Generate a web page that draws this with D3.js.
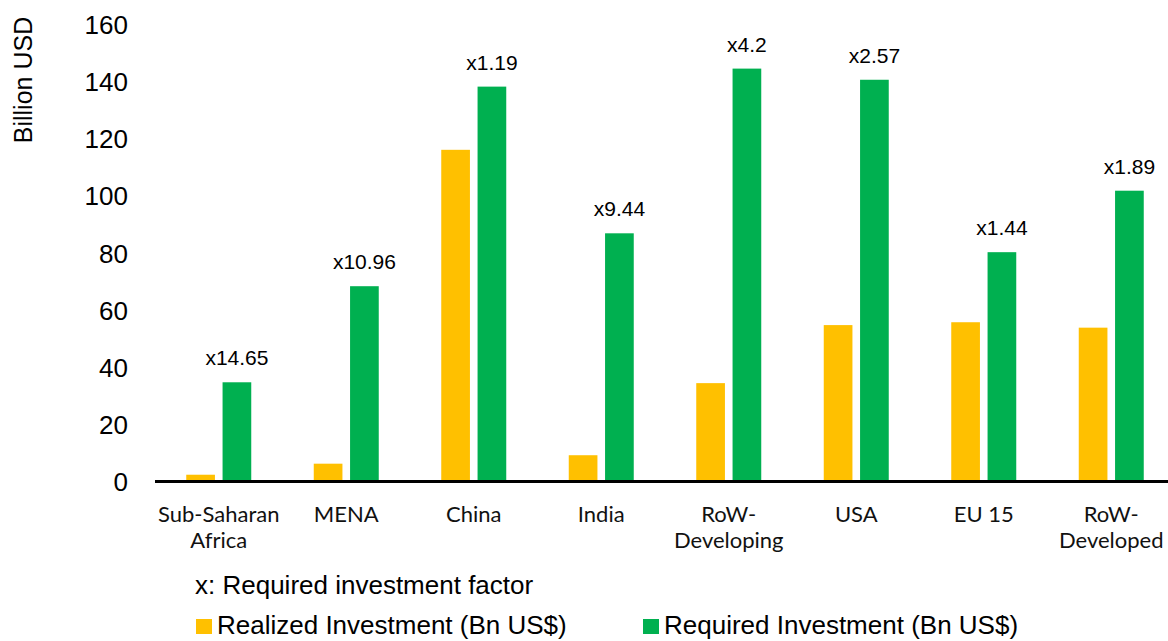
<!DOCTYPE html>
<html>
<head>
<meta charset="utf-8">
<script src="https://cdn.jsdelivr.net/npm/d3@7"></script>
<style>
  html, body { margin: 0; padding: 0; background: #fff; }
  svg { display: block; }
</style>
</head>
<body>
<svg id="chart" width="1168" height="641"></svg>
<script>
// Regions and investment values (billion US$)
const categories = [
  ["Sub-Saharan", "Africa"],
  ["MENA"],
  ["China"],
  ["India"],
  ["RoW-", "Developing"],
  ["USA"],
  ["EU 15"],
  ["RoW-", "Developed"]
];
const realized = [2.37, 6.23, 116.0, 9.19, 34.4, 54.7, 55.7, 53.8];
const required = [34.7, 68.3, 138.1, 86.8, 144.4, 140.5, 80.2, 101.7];
const factors = ["x14.65", "x10.96", "x1.19", "x9.44", "x4.2", "x2.57", "x1.44", "x1.89"];
const yTicks = [0, 20, 40, 60, 80, 100, 120, 140, 160];
const seriesNames = ["Realized Investment (Bn US$)", "Required Investment (Bn US$)"];
const seriesColors = ["#FFC000", "#00B050"];

const svg = d3.select("#chart");
const sans = "'Liberation Sans', Arial, Helvetica, sans-serif";
const labelFont = "Lato, 'Open Sans', sans-serif";

const keys = categories.map((c, i) => i);
const x = d3.scaleBand().domain(keys).range([155, 1175]).padding(0);
const groupWidth = 65;
const xInner = d3.scaleBand().domain([0, 1]).range([-groupWidth / 2, groupWidth / 2]).paddingInner(0.21).paddingOuter(0);
const y = d3.scaleLinear().domain([0, 160]).range([481.5, 24]);

// Y tick labels (no axis line, no tick marks)
const yAxis = d3.axisLeft(y).tickValues(yTicks).tickSize(0).tickPadding(0);
const yG = svg.append("g").attr("transform", "translate(128,0)").call(yAxis);
yG.select(".domain").remove();
yG.selectAll(".tick line").remove();
yG.selectAll("text")
  .attr("font-family", sans)
  .attr("font-size", 26)
  .attr("fill", "#000")
  .attr("dy", "0.36em");

// Y axis title
svg.append("text")
  .attr("transform", "translate(23,80) rotate(-90)")
  .attr("text-anchor", "middle")
  .attr("dominant-baseline", "central")
  .attr("font-family", sans)
  .attr("font-size", 25)
  .attr("fill", "#000")
  .text("Billion USD");

// Bars
const data = keys.map(i => ({ i, vals: [realized[i], required[i]] }));
const groups = svg.append("g").selectAll("g")
  .data(data).join("g")
  .attr("transform", d => `translate(${x(d.i) + x.bandwidth() / 2},0)`);

groups.selectAll("rect")
  .data(d => d.vals.map((v, s) => ({ v, s })))
  .join("rect")
  .attr("x", d => xInner(d.s))
  .attr("width", xInner.bandwidth())
  .attr("y", d => y(d.v))
  .attr("height", d => y(0) - y(d.v))
  .attr("fill", d => seriesColors[d.s]);

// Required-investment factor labels above the green bars
groups.append("text")
  .attr("x", xInner(1) + xInner.bandwidth() / 2)
  .attr("y", d => y(required[d.i]) - 17)
  .attr("text-anchor", "middle")
  .attr("font-family", sans)
  .attr("font-size", 21)
  .attr("fill", "#000")
  .text(d => factors[d.i]);

// Baseline
svg.append("line")
  .attr("x1", 155).attr("x2", 1168)
  .attr("y1", y(0)).attr("y2", y(0))
  .attr("stroke", "#000")
  .attr("stroke-width", 3);

// Category labels
const xAxis = d3.axisBottom(x).tickSize(0).tickFormat("");
const xG = svg.append("g").attr("transform", `translate(0,${y(0)})`).call(xAxis);
xG.select(".domain").remove();
xG.selectAll(".tick line").remove();
xG.selectAll(".tick").each(function (i) {
  const t = d3.select(this).append("text")
    .attr("text-anchor", "middle")
    .attr("font-family", labelFont)
    .attr("font-size", 22)
    .attr("fill", "#111");
  categories[i].forEach((line, k) => {
    t.append("tspan").attr("x", 0).attr("y", 40 + k * 26).text(line);
  });
});

// Legend
svg.append("text")
  .attr("x", 195).attr("y", 594)
  .attr("font-family", sans)
  .attr("font-size", 26)
  .attr("fill", "#000")
  .text("x: Required investment factor");

const legendX = [196, 643];
const legend = svg.append("g").selectAll("g")
  .data(seriesNames).join("g")
  .attr("transform", (d, s) => `translate(${legendX[s]},0)`);
legend.append("rect")
  .attr("x", 0).attr("y", 619)
  .attr("width", 16).attr("height", 15)
  .attr("fill", (d, s) => seriesColors[s]);
legend.append("text")
  .attr("x", 21).attr("y", 634)
  .attr("font-family", sans)
  .attr("font-size", 26)
  .attr("fill", "#000")
  .text(d => d);
</script>
</body>
</html>
